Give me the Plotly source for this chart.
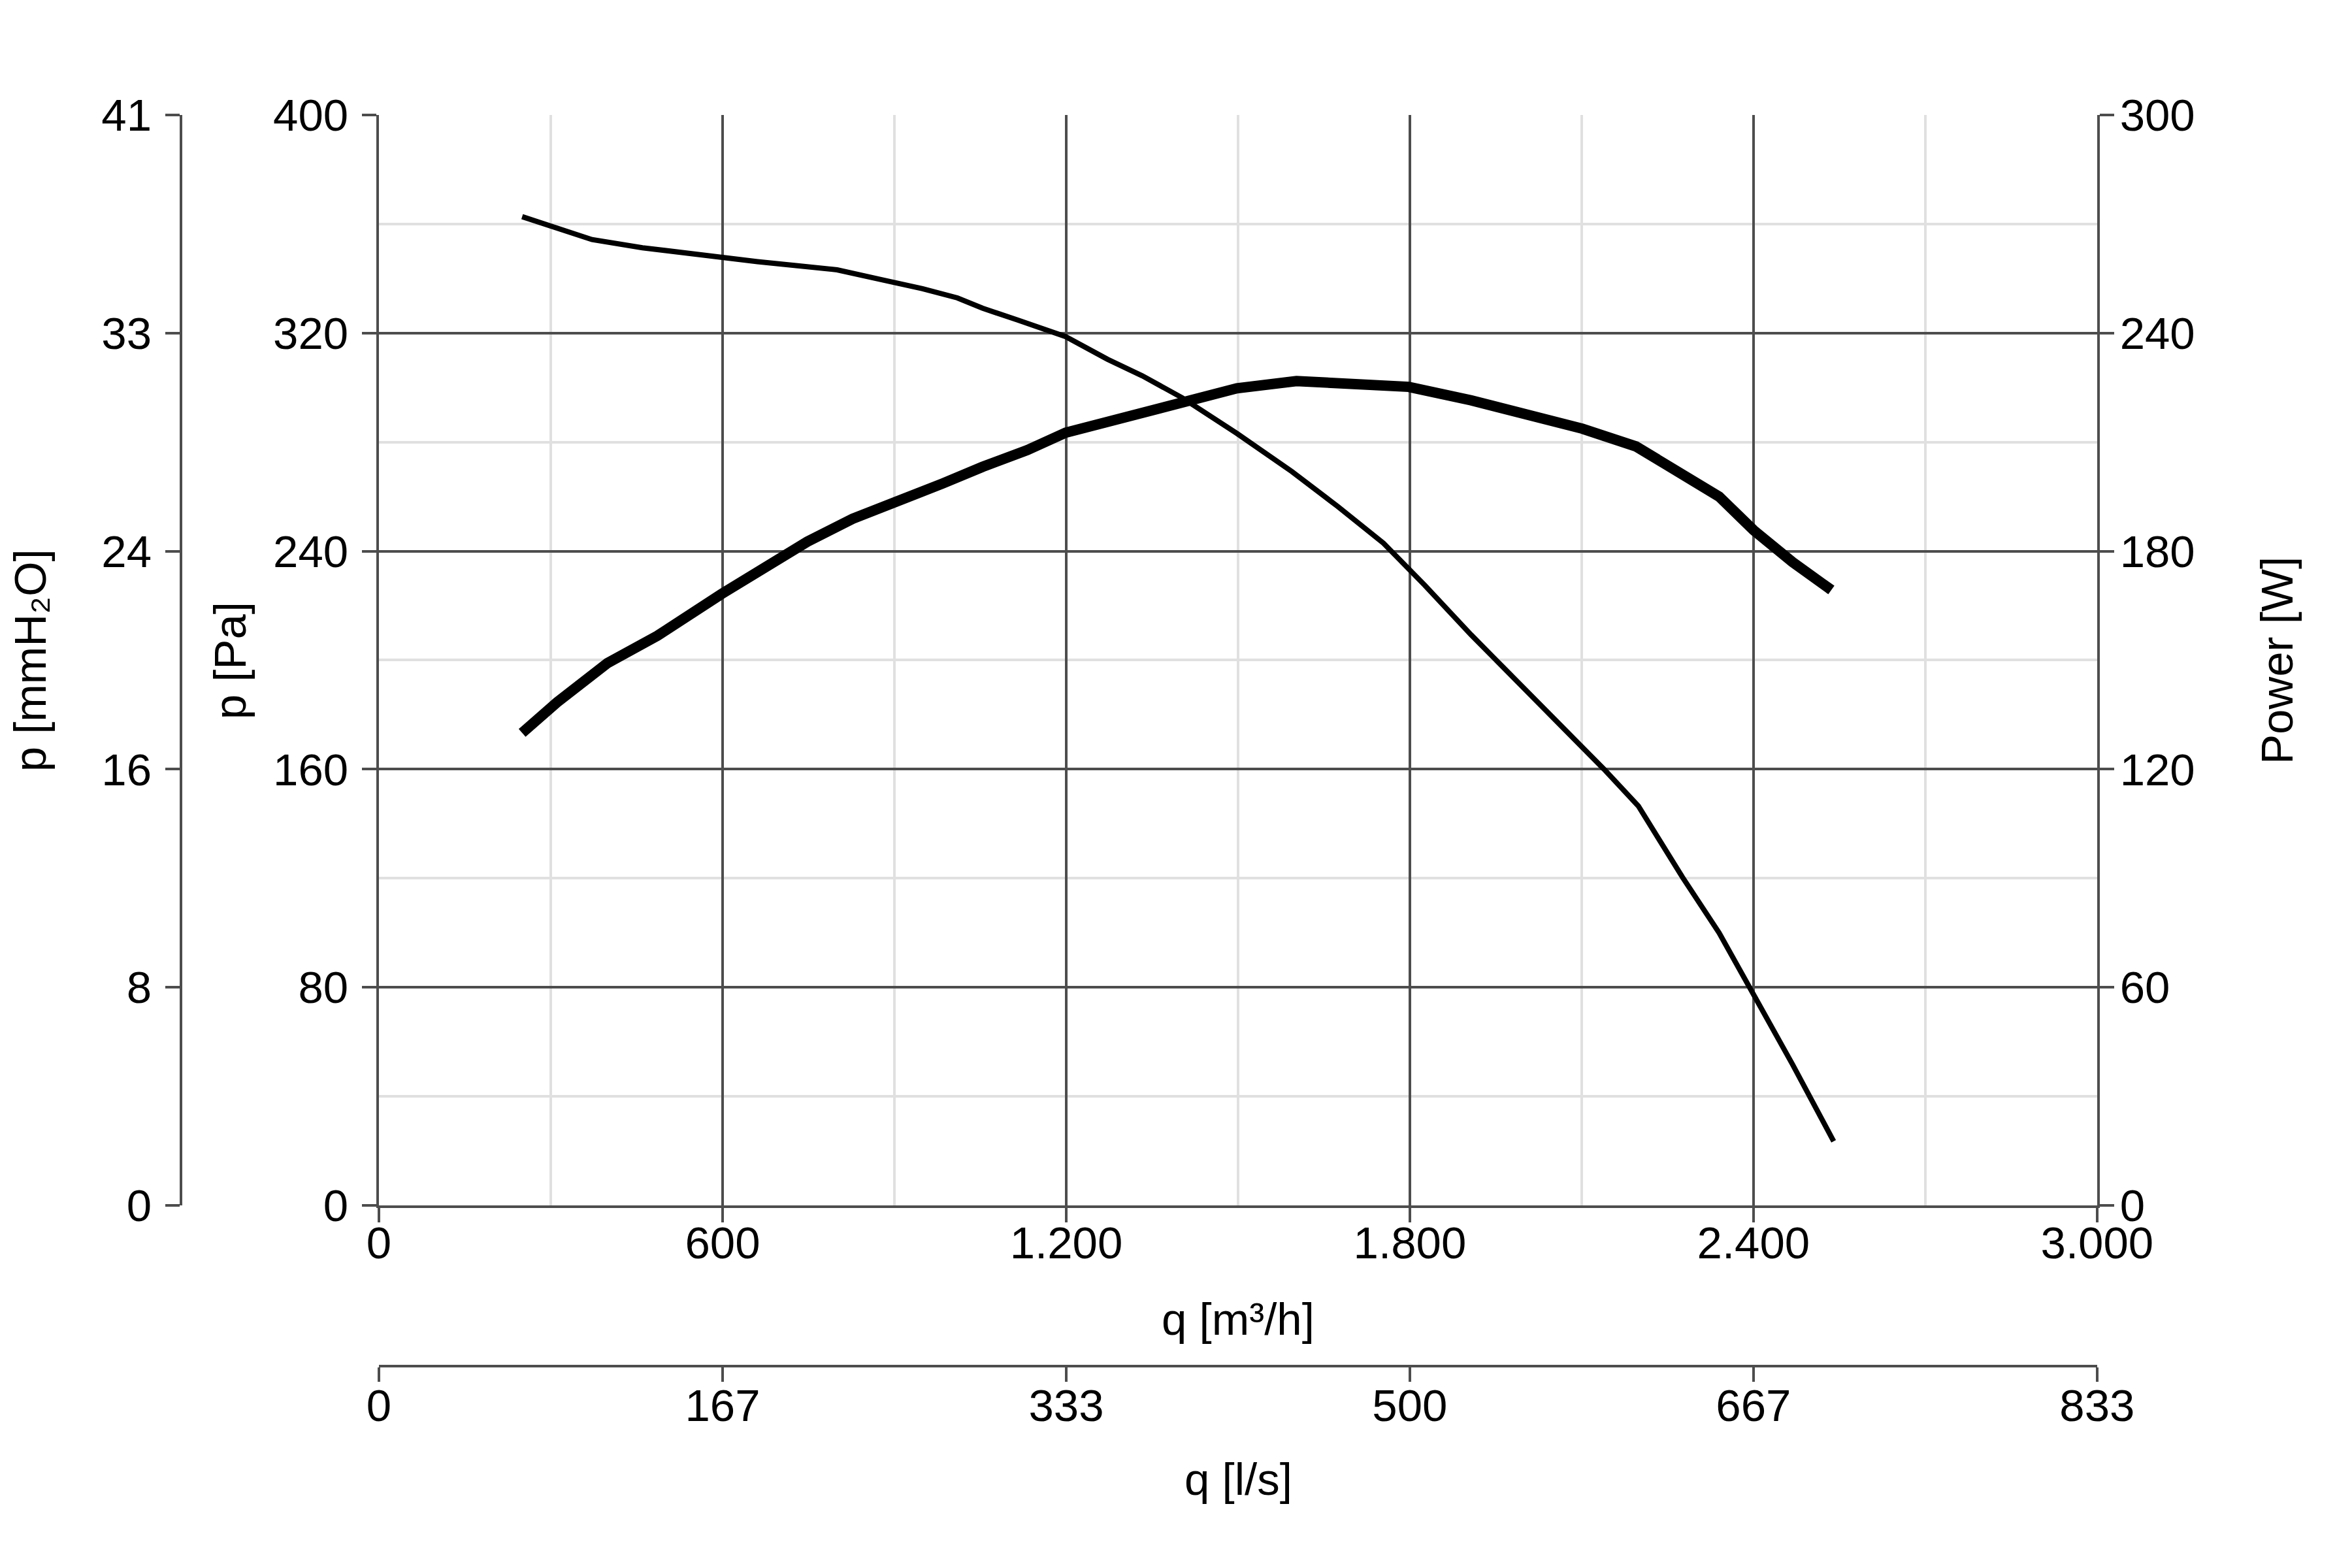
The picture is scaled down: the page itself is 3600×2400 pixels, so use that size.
#######
# Fan curve: static pressure and power against air flow,
# with secondary scales in mmH2O and l/s
######

import plotly.graph_objs as go

# Pressure curve (thin line), q in m³/h, p in Pa
q_pressure = [250, 372, 460, 521, 598, 661, 731, 800, 879, 949, 1010, 1054, 1115,
              1199, 1272, 1333, 1403, 1498, 1594, 1674, 1754, 1826, 1907, 1995,
              2083, 2139, 2199, 2276, 2340, 2400, 2468, 2540]
p_pressure = [362.7, 354.3, 351.3, 349.7, 347.8, 346.2, 344.7, 343.2, 339.5, 336.3, 332.9,
              329.1, 324.8, 318.7, 310.4, 304.3, 296.2, 283.2, 269.2, 256.4, 242.9,
              227.5, 209.3, 190.6, 171.8, 160.0, 146.5, 120.4, 100.0, 77.5, 51.8, 23.5]

# Power curve (thick line), q in m³/h, power in W
q_power = [250, 311, 399, 486, 598, 678, 748, 827, 897, 984, 1054, 1132, 1199, 1272,
           1359, 1412, 1498, 1602, 1698, 1798, 1907, 2003, 2101, 2195, 2260, 2340,
           2400, 2468, 2536]
power = [130.0, 138.4, 149.2, 156.7, 168.2, 175.7, 182.6, 188.9, 192.9, 198.6, 203.2,
         207.8, 212.6, 215.6, 219.5, 221.8, 224.8, 226.8, 226.3, 225.2, 221.5, 218.0,
         213.7, 208.8, 202.7, 195.0, 185.8, 177.0, 169.3]

# Secondary scales
mmh2o_ticks = [0, 8.158, 16.316, 24.474, 32.632, 40.79]
mmh2o_labels = ["0", "8", "16", "24", "33", "41"]
ls_ticks = [0, 166.67, 333.33, 500, 666.67, 833.33]
ls_labels = ["0", "167", "333", "500", "667", "833"]

DARK = "#4d4d4d"
LIGHT = "#e0e0e0"
FONT = dict(family="Liberation Sans, Arial, sans-serif", size=69, color="black")

axis_style = dict(
  showline = True, linecolor = DARK, linewidth = 4,
  ticks = "outside", ticklen = 22, tickwidth = 4, tickcolor = DARK,
  zeroline = False, tickfont = FONT, automargin = False, fixedrange = True
)

# Create the traces
data = [
  go.Scatter(
    x = q_pressure, y = p_pressure, mode = "lines",
    line = dict(color = "black", width = 8),
    xaxis = "x", yaxis = "y", showlegend = False
  ),
  go.Scatter(
    x = q_power, y = power, mode = "lines",
    line = dict(color = "black", width = 16),
    xaxis = "x", yaxis = "y2", showlegend = False
  ),
  # empty traces so the extra scales get drawn
  go.Scatter(x = [], y = [], xaxis = "x2", yaxis = "y", showlegend = False, hoverinfo = "skip"),
  go.Scatter(x = [], y = [], xaxis = "x", yaxis = "y3", showlegend = False, hoverinfo = "skip")
]

# Axis titles
titles = [
  ("q [m³/h]", 0.5242, 0.162, 0),
  ("q [l/s]", 0.5242, 0.060, 0),
  ("p [Pa]", 0.0956, 0.582, -90),
  ("p [mmH₂O]", 0.0106, 0.582, -90),
  ("Power [W]", 0.9658, 0.582, -90)
]

# Create the layout
layout = go.Layout(
  template = "none",
  width = 3600, height = 2400,
  margin = dict(l = 0, r = 0, t = 0, b = 0),
  paper_bgcolor = "white", plot_bgcolor = "white",
  separators = ",.",
  font = FONT,
  showlegend = False,
  xaxis = dict(
    domain = [0.1589, 0.8894], range = [0, 3000], dtick = 600, tick0 = 0,
    tickformat = ",d", anchor = "y", ticklabelstandoff = -28,
    showgrid = True, gridcolor = DARK, gridwidth = 4,
    minor = dict(dtick = 300, showgrid = True, gridcolor = LIGHT, gridwidth = 4),
    **axis_style
  ),
  yaxis = dict(
    domain = [0.2346, 0.93], range = [0, 400], dtick = 80, tick0 = 0,
    anchor = "x", ticklabelstandoff = 7,
    showgrid = True, gridcolor = DARK, gridwidth = 4,
    minor = dict(dtick = 40, showgrid = True, gridcolor = LIGHT, gridwidth = 4),
    **axis_style
  ),
  yaxis2 = dict(
    overlaying = "y", side = "right", anchor = "x", ticklabelstandoff = -5,
    range = [0, 300], dtick = 60, tick0 = 0, showgrid = False,
    **axis_style
  ),
  yaxis3 = dict(
    overlaying = "y", side = "left", anchor = "free", position = 0.0747,
    range = [0, 40.79], tickvals = mmh2o_ticks, ticktext = mmh2o_labels,
    ticklabelstandoff = 7, showgrid = False,
    **axis_style
  ),
  xaxis2 = dict(
    overlaying = "x", side = "bottom", anchor = "free", position = 0.1321,
    range = [0, 833.33], tickvals = ls_ticks, ticktext = ls_labels,
    ticklabelstandoff = -23, showgrid = False,
    **axis_style
  ),
  annotations = [
    dict(text = t, x = x, y = y, xref = "paper", yref = "paper",
         xanchor = "center", yanchor = "middle",
         showarrow = False, textangle = a, font = FONT)
    for t, x, y, a in titles
  ]
)

# Build the figure
fig = go.Figure(data = data, layout = layout)

# Save the plot
fig.write_html("out.html")
